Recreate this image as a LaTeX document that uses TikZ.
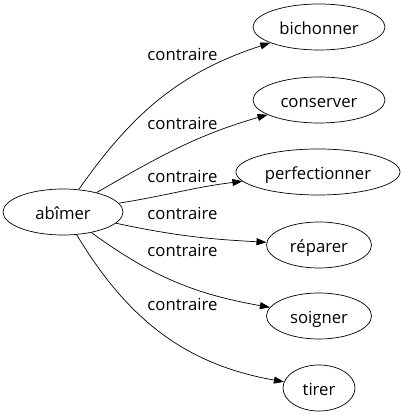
\documentclass[tikz,border=0pt]{standalone}
\usepackage{fontspec}
\setmainfont{Open Sans}
\usetikzlibrary{positioning, shapes.geometric, arrows.meta}
\tikzstyle{Link} = [
%Custom connector style:
line width = 0.7pt,
-{Triangle[length = 10pt, width = 7pt]}
]
\begin{document}
\begin{tikzpicture}[
			x = 1pt, y = 1pt,
			word/.style = {ellipse, draw, line width = 0.7pt, inner sep = 0pt, minimum height = 46pt, text height = 15pt, text depth = 0pt, font = \fontsize{16.7}{20}\selectfont},
			relation/.style = {anchor = base, inner sep = 0pt, font = \fontsize{16.7}{20}\selectfont},
		]
		\useasboundingbox (0,0) rectangle (408,419);
		\node[word, minimum width = 120pt](abimer) at (63,207){abîmer};
		\node[word, minimum width = 132pt](bichonner) at (319,392){bichonner};
		\node[word, minimum width = 132pt](conserver) at (319,319){conserver};
		\node[word, minimum width = 164pt](perfectionner) at (318,247){perfectionner};
		\node[word, minimum width = 105pt](reparer) at (319,174){réparer};
		\node[word, minimum width = 105pt](soigner) at (319,103){soigner};
		\node[word, minimum width = 72pt](tirer) at (319,31){tirer};

		\draw[Link](abimer) to[out = 55, in = 198] (bichonner);
		\draw[Link](abimer) to[out = 30, in = 196] (conserver);
		\draw[Link](abimer) to[out = 9, in = 187] (perfectionner);
		\draw[Link](abimer) to[out = -12, in = 177] (reparer);
		\draw[Link](abimer) to[out = -36, in = 170] (soigner);
		\draw[Link](abimer) to[out = -59, in = 170] (tirer);

		\node[relation](c1) at (182.5,358){contraire};
		\node[relation](c2) at (182.5,289){contraire};
		\node[relation](c3) at (182.5,236){contraire};
		\node[relation](c4) at (182.5,199){contraire};
		\node[relation](c5) at (182.5,162){contraire};
		\node[relation](c6) at (182.5,108){contraire};

	\end{tikzpicture}
\end{document}
